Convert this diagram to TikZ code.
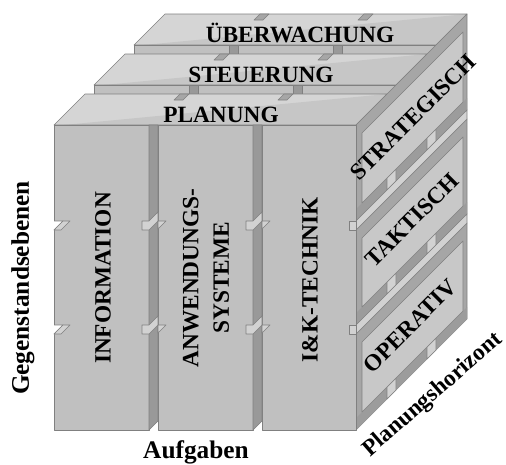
\documentclass[tikz,border=0pt]{standalone}
\usepackage{fontspec}
\setmainfont{Liberation Serif}
\definecolor{topL}{HTML}{D5D5D5}
\definecolor{topD}{HTML}{C6C6C6}
\definecolor{faceC}{HTML}{C0C0C0}
\definecolor{stripC}{HTML}{999999}
\definecolor{frameC}{HTML}{A6A6A6}
\definecolor{bandC}{HTML}{9C9C9C}
\definecolor{innerC}{HTML}{C8C8C8}
\definecolor{gapC}{HTML}{D2D2D2}
\definecolor{edgeC}{HTML}{808080}
\tikzset{
  edge/.style={draw=edgeC, line width=0.5pt, line join=round},
  lbl/.style={font=\fontsize{17.5}{23}\selectfont\bfseries, inner sep=0pt, align=center},
  axislbl/.style={font=\fontsize{19}{23}\selectfont\bfseries, inner sep=0pt},
}
\begin{document}
\begin{tikzpicture}[x=0.75pt,y=-0.75pt]
\useasboundingbox (0,0) rectangle (506,464);

% ---- top slabs, back to front ----
\foreach \d in {80,40,0}{
  \fill[topL] (54+\d,125-\d) -- (356+\d,125-\d) -- (387+\d,94-\d) -- (85+\d,94-\d) -- cycle;
  \fill[topD] (64+\d,125-\d) -- (356+\d,125-\d) -- (387+\d,94-\d) -- cycle;
  \draw[edge] (54+\d,125-\d) -- (356+\d,125-\d) -- (387+\d,94-\d) -- (85+\d,94-\d) -- cycle;
  \foreach \s in {149,253}{
    \filldraw[fill=frameC, edge] (\s+31+\d,94-\d) -- (\s+40+\d,94-\d) -- (\s+34+\d,100-\d) -- (\s+25+\d,100-\d) -- cycle;
  }
  \ifnum\d>0
    \filldraw[fill=faceC, edge] (54+\d,125-\d) rectangle (356+\d,134-\d);
    \foreach \s in {149,253}{
      \filldraw[fill=stripC, edge] (\s+\d,125-\d) rectangle (\s+9+\d,134-\d);
    }
  \fi
}

% ---- right side: level panels ----
\foreach \t/\b in {125/221, 230/325, 334/430}{
  \filldraw[fill=frameC, edge] (356,\t) -- (467,\t-111) -- (467,\b-111) -- (356,\b) -- cycle;
  \fill[bandC] (356,\b-12) -- (467,\b-123) -- (467,\b-111) -- (356,\b) -- cycle;
  \foreach \xa in {387,427}{
    \filldraw[fill=gapC, edge] (\xa,\b-12-\xa+356) -- (\xa+9,\b-21-\xa+356) -- (\xa+9,\b-9-\xa+356) -- (\xa,\b-\xa+356) -- cycle;
  }
  \filldraw[fill=innerC, edge] (362,\t+8) -- (463,\t-93) -- (463,\b-119) -- (362,\b-18) -- cycle;
}
\foreach \a in {221,325}{
  \filldraw[fill=gapC, edge] (356,\a) -- (467,\a-111) -- (467,\a-102) -- (356,\a+9) -- cycle;
}

% ---- front columns ----
\foreach \xl/\xr in {54/149, 158/253, 262/356}{
  \filldraw[fill=faceC, edge] (\xl,125) rectangle (\xr,430);
}
\foreach \s in {149,253}{
  \filldraw[fill=stripC, edge] (\s,125) -- (\s+9,125) -- (\s+9,421) -- (\s,430) -- cycle;
}

% ---- notches at the level joints ----
\foreach \a in {221,325}{
  \fill[white] (53.5,\a) -- (63,\a) -- (53.5,\a+9) -- cycle;
  \draw[edge] (54,\a) -- (63,\a) -- (54,\a+9);
  \filldraw[fill=gapC, edge] (54,\a+9) -- (63,\a) -- (70,\a) -- (61,\a+9) -- cycle;
  \foreach \s in {149,253}{
    \filldraw[fill=gapC, edge] (\s-7,\a) -- (\s,\a) -- (\s+9,\a-9) -- (\s+9,\a) -- (\s,\a+9) -- (\s-7,\a+9) -- cycle;
    \filldraw[fill=gapC, edge] (\s+9,\a) -- (\s+17,\a) -- (\s+9,\a+8) -- cycle;
  }
  \filldraw[fill=gapC, edge] (349,\a) rectangle (356,\a+9);
}

% ---- labels ----
\node[lbl, anchor=base] (planung) at (221,122) {PLANUNG};
\node[lbl, anchor=base] (steuerung) at (261,82) {STEUERUNG};
\node[lbl, anchor=base] (ueberwachung) at (300,42) {ÜBERWACHUNG};
\node[lbl, rotate=90] (information) at (103,278) {INFORMATION};
\node[lbl, rotate=90] (anwendung) at (206,278) {ANWENDUNGS-\\SYSTEME};
\node[lbl, rotate=90] (iuk) at (310,280) {I\&K-TECHNIK};
\node[lbl, rotate=45] (strategisch) at (413,117) {STRATEGISCH};
\node[lbl, rotate=45] (taktisch) at (412,220) {TAKTISCH};
\node[lbl, rotate=45] (operativ) at (410,326) {OPERATIV};
\node[axislbl, rotate=90] (gegenstand) at (23,288) {Gegenstandsebenen};
\node[axislbl, anchor=base] (aufgaben) at (196,458) {Aufgaben};
\node[lbl, rotate=41] (horizont) at (433,395) {Planungshorizont};
\end{tikzpicture}
\end{document}
